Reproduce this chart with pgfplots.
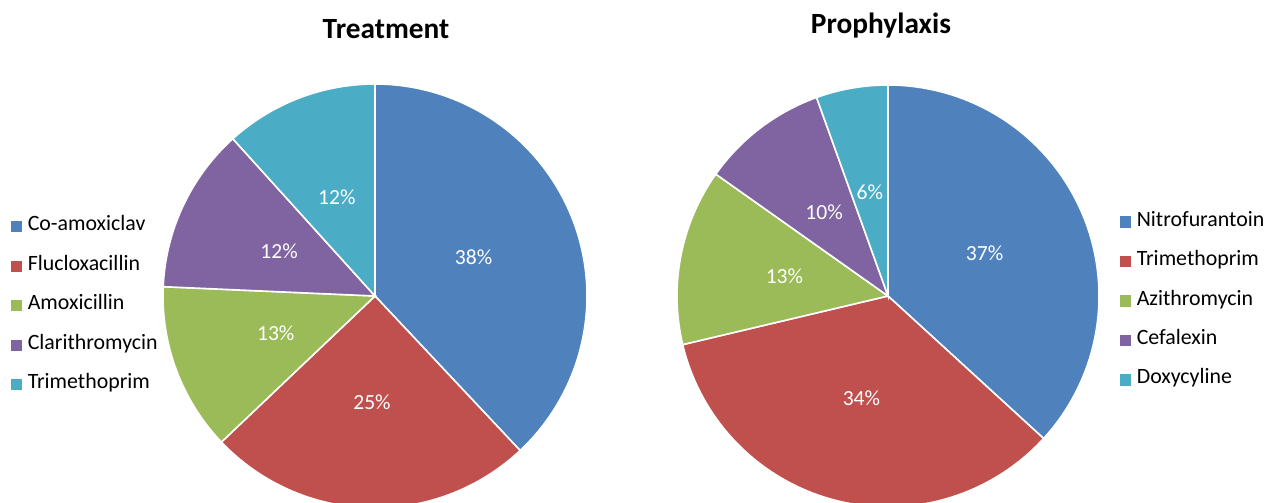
\documentclass[border=0pt]{standalone}
\usepackage{pgfplots}
\pgfplotsset{compat=1.18}
\usepackage{fontspec}
\setmainfont{Carlito}
\definecolor{cA}{HTML}{4F81BD}
\definecolor{cB}{HTML}{C0504D}
\definecolor{cC}{HTML}{9BBB59}
\definecolor{cD}{HTML}{8064A2}
\definecolor{cE}{HTML}{4BACC6}
% cumulative shares (percent) at slice boundaries
% Treatment
\def\TA{0}\def\TB{38.0}\def\TC{62.9}\def\TD{75.7}\def\TE{88.3}\def\TF{100}
% Prophylaxis
\def\PA{0}\def\PB{36.8}\def\PC{71.3}\def\PD{84.8}\def\PE{94.5}\def\PF{100}
\newcommand{\slice}[6]{% cx, cy, r, start%, end%, colour
  \pgfmathsetmacro{\sa}{#4*3.6}\pgfmathsetmacro{\sb}{#5*3.6}
  \addplot[fill=#6, draw=white, line width=1.2pt, domain=\sa:\sb, samples=90, variable=\t]
    ({#1+#3*sin(\t)},{#2-#3*cos(\t)}) -- (axis cs:#1,#2) -- cycle;
}
\newcommand{\plabel}[6]{% cx, cy, r, start%, end%, text
  \pgfmathsetmacro{\sm}{(#4+#5)*1.8}%
  \pgfmathsetmacro{\lx}{#1+0.5*#3*sin(\sm)}%
  \pgfmathsetmacro{\ly}{#2-0.5*#3*cos(\sm)}%
  \edef\doit{\noexpand\node[text=white, font=\noexpand\labfont] at (axis cs:\lx,\ly) {\unexpanded{#6}};}%
  \doit
}
\newcommand{\labfont}{\fontsize{16.2}{19}\selectfont}
\pgfplotsset{
  frame/.style={
    at={(0,0)}, anchor=south west, scale only axis,
    width=950.25pt, height=377.25pt,
    xmin=0, xmax=1267, ymin=0, ymax=503, y dir=reverse,
    hide axis, clip=true,
    legend cell align=left,
    legend image code/.code={\fill[##1, draw=none] (0pt,-4.2pt) rectangle (8.4pt,4.2pt);},
    legend style={draw=none, fill=none, inner sep=0pt, outer sep=0pt,
      font=\fontsize{16.4}{19}\selectfont, row sep=17.6pt,
      nodes={inner sep=0pt, text height=9pt, text depth=3pt},
      /tikz/every odd column/.append style={column sep=4.2pt}},
  }
}
\begin{document}
\begin{tikzpicture}
\begin{axis}[frame, legend style={at={(axis cs:11,305.8)}, anchor=west}]
\slice{375}{296}{212}{\TA}{\TB}{cA}\addlegendentry{Co-amoxiclav}
\slice{375}{296}{212}{\TB}{\TC}{cB}\addlegendentry{Flucloxacillin}
\slice{375}{296}{212}{\TC}{\TD}{cC}\addlegendentry{Amoxicillin}
\slice{375}{296}{212}{\TD}{\TE}{cD}\addlegendentry{Clarithromycin}
\slice{375}{296}{212}{\TE}{\TF}{cE}\addlegendentry{Trimethoprim}
\plabel{375}{296}{212}{\TA}{\TB}{38\%}
\plabel{375}{296}{212}{\TB}{\TC}{25\%}
\plabel{375}{296}{212}{\TC}{\TD}{13\%}
\plabel{375}{296}{212}{\TD}{\TE}{12\%}
\plabel{375}{296}{212}{\TE}{\TF}{12\%}
\node[anchor=base, font=\bfseries\fontsize{22}{26}\selectfont] at (axis cs:386,39) {Treatment};
\end{axis}
\begin{axis}[frame, legend style={at={(axis cs:1120,301)}, anchor=west}]
\slice{888}{296}{211}{\PA}{\PB}{cA}\addlegendentry{Nitrofurantoin}
\slice{888}{296}{211}{\PB}{\PC}{cB}\addlegendentry{Trimethoprim}
\slice{888}{296}{211}{\PC}{\PD}{cC}\addlegendentry{Azithromycin}
\slice{888}{296}{211}{\PD}{\PE}{cD}\addlegendentry{Cefalexin}
\slice{888}{296}{211}{\PE}{\PF}{cE}\addlegendentry{Doxycyline}
\plabel{888}{296}{211}{\PA}{\PB}{37\%}
\plabel{888}{296}{211}{\PB}{\PC}{34\%}
\plabel{888}{296}{211}{\PC}{\PD}{13\%}
\plabel{888}{296}{211}{\PD}{\PE}{10\%}
\plabel{888}{296}{211}{\PE}{\PF}{6\%}
\node[anchor=base, font=\bfseries\fontsize{22}{26}\selectfont] at (axis cs:881,34) {Prophylaxis};
\end{axis}
\pgfresetboundingbox
\path[use as bounding box] (0,0) rectangle (950.25pt,377.25pt);
\end{tikzpicture}
\end{document}
